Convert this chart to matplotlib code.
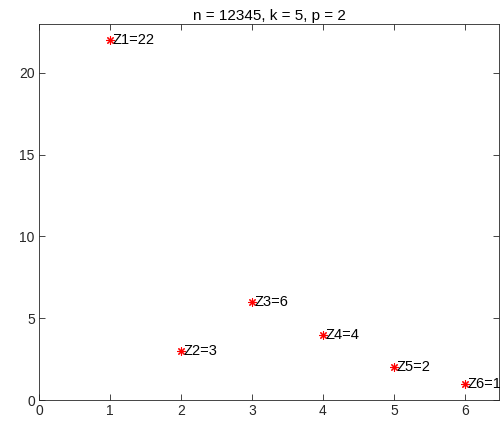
import matplotlib
matplotlib.use("Agg")
import matplotlib.pyplot as plt

plt.rcParams['font.family'] = ['Liberation Sans', 'DejaVu Sans']

# data
k_vals = [1, 2, 3, 4, 5, 6]
z_vals = [22, 3, 6, 4, 2, 1]
labels = ["Z1=22", "Z2=3", "Z3=6", "Z4=4", "Z5=2", "Z6=1"]

fig = plt.figure(figsize=(5.0, 4.26), dpi=100)
ax = fig.add_axes([0.078, 0.061, 0.92, 0.883])

# MATLAB-style asterisk marker (plus and cross combined)
ax.plot(k_vals, z_vals, linestyle='none', marker=(4, 2, 0), color='red',
        markersize=6, markeredgewidth=0.8)
ax.plot(k_vals, z_vals, linestyle='none', marker=(4, 2, 45), color='red',
        markersize=6, markeredgewidth=0.8)
for x, y, s in zip(k_vals, z_vals, labels):
    ax.text(x + 0.03, y, s, fontsize=10.5, va='center', ha='left', color='black')

ax.set_xlim(0, 6.48)
ax.set_ylim(0, 23)
ax.set_xticks(range(0, 7))
ax.set_yticks([0, 5, 10, 15, 20])
ax.tick_params(direction='in', length=4, width=0.6, colors='#262626',
               labelsize=10, top=True, right=True, pad=3)
for sp in ax.spines.values():
    sp.set_color('#262626')
    sp.set_linewidth(0.6)

ax.set_title("n = 12345, k = 5, p = 2", fontsize=11, pad=3)

fig.savefig("out.png", dpi=100)
